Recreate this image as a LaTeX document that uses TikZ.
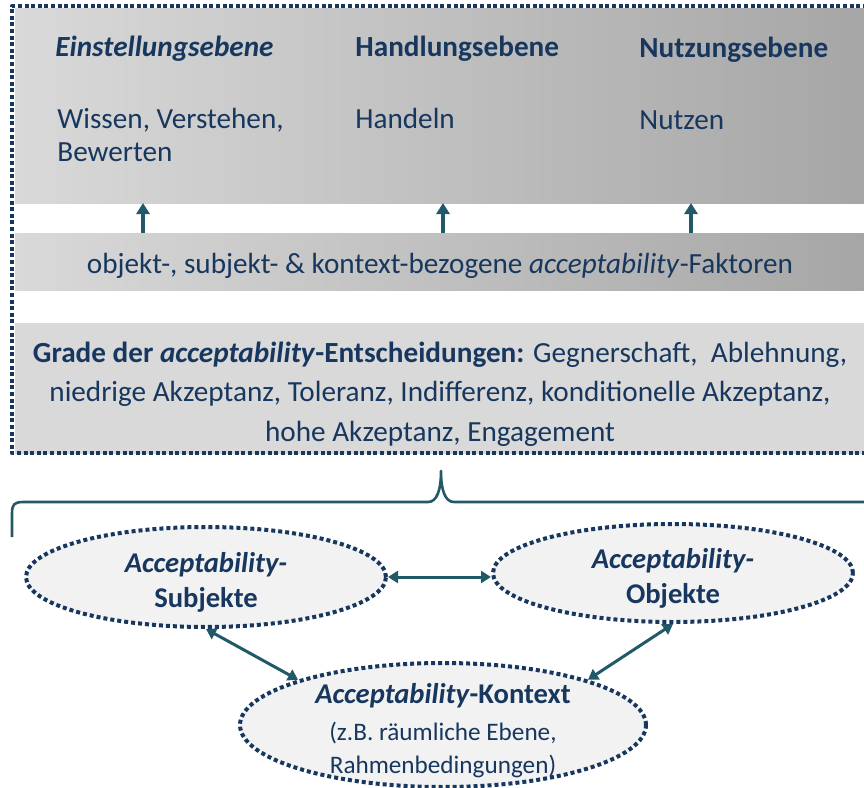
\documentclass[tikz,border=0pt]{standalone}
\usepackage{fontspec}
\setmainfont{Carlito}
\usetikzlibrary{arrows.meta,shapes.geometric}
\definecolor{navy}{HTML}{17375E}
\definecolor{petrol}{HTML}{215968}
\definecolor{greylt}{HTML}{D9D9D9}
\definecolor{greydk}{HTML}{A6A6A6}
\definecolor{ovalbg}{HTML}{F2F2F2}
\tikzset{fig/.style={line join=round,>=Stealth},
  frame/.style={navy,line width=2pt,dash pattern=on 2pt off 1.3pt},
  band/.style={rectangle,left color=greylt,right color=greydk,draw=none,outer sep=0pt,
    anchor=north west,minimum width=425pt},
  upar/.style={petrol,line width=2.2pt,-{Triangle[width=6.5pt,length=5.5pt]}},
  twoar/.style={petrol,line width=1.5pt,{Triangle[width=6pt,length=5pt]}-{Triangle[width=6pt,length=5pt]}},
  oval/.style={ellipse,draw=navy,fill=ovalbg,line width=2pt,dash pattern=on 2pt off 1.5pt,inner sep=0pt},
  ovaltxt/.style={align=center,inner sep=0pt,font=\fontsize{14.3}{17.5}\selectfont\bfseries},
  lbl/.style={anchor=base west,align=left,inner sep=0pt}}

\begin{document}
\begin{tikzpicture}[fig,x=0.5pt,y=-0.5pt,font=\fontsize{14.6}{16.5}\selectfont,text=navy]
  \useasboundingbox (0,0) rectangle (864,788);
  \clip (0,0) rectangle (864,788);
  % levels
  \node[band,minimum height=97.5pt] (top) at (15,8) {};
  \node[lbl] (h1) at (55,56) {\textbf{\textit{Einstellungsebene}}};
  \node[lbl] (h2) at (355,56) {\textbf{Handlungsebene}};
  \node[lbl] (h3) at (639,57) {\textbf{Nutzungsebene}};
  \node[lbl] (t1) at (57,161) {Wissen, Verstehen,\\Bewerten};
  \node[lbl] (t2) at (355,128) {Handeln};
  \node[lbl] (t3) at (639,129) {Nutzen};
  % factors
  \node[band,minimum height=28.5pt] (band) at (15,233) {};
  \node[inner sep=0pt] (fak) at ([yshift=-2pt]band.center) {objekt-, subjekt- \& kontext-bezogene \textit{acceptability}-Faktoren};
  \foreach \x/\n in {143/a,443/b,691/c}{
    \coordinate (\n) at (\x,0);
    \draw[upar] (\n |- band.north) -- (\n |- top.south);}
  % grades
  \node[band,left color=greylt,right color=greylt,minimum height=65pt] (grade) at (15,323) {};
  \node[align=center,inner sep=0pt,font=\fontsize{14.6}{19.75}\selectfont] (gtxt) at ([yshift=-3pt]grade.center)
    {\textbf{Grade der \textit{acceptability}-Entscheidungen:} Gegnerschaft,~~Ablehnung,\\
     niedrige Akzeptanz, Toleranz, Indifferenz, konditionelle Akzeptanz,\\
     hohe Akzeptanz, Engagement};
  \draw[frame] (880,6) -- (12,6) -- (12,453) -- (880,453);
  % brace
  \draw[petrol,line width=1.3pt] (12,537) -- (12,514) .. controls (12,504) and (14,502) .. (24,502)
    -- (428,502) .. controls (437,502) and (441,490) .. (441,471)
    .. controls (441,490) and (445,502) .. (454,502) -- (880,502);
  % actors
  \node[oval,minimum width=180pt,minimum height=50pt] (subj) at (206,577) {};
  \node[oval,minimum width=180pt,minimum height=49pt] (obj) at (673,573) {};
  \node[oval,minimum width=203pt,minimum height=62pt] (kon) at (443,725) {};
  \node[ovaltxt] (subjtxt) at ([yshift=-2.8pt]subj.center) {\textit{Acceptability-}\\Subjekte};
  \node[ovaltxt] (objtxt) at ([yshift=-2.5pt]obj.center) {\textit{Acceptability-}\\Objekte};
  \node[ovaltxt,font=\fontsize{12.6}{16.5}\selectfont] (kontxt) at ([yshift=-3pt]kon.center)
    {{\fontsize{14.3}{16}\selectfont\bfseries\textit{Acceptability}-Kontext}\\[2pt]
     (z.B. räumliche Ebene,\\Rahmenbedingungen)};
  \draw[twoar] (subj.east) -- (subj.east -| obj.west);
  \draw[twoar] (subj.south) -- (kon.north west);
  \draw[twoar] (obj.south) -- (kon.north east);
\end{tikzpicture}
\end{document}
